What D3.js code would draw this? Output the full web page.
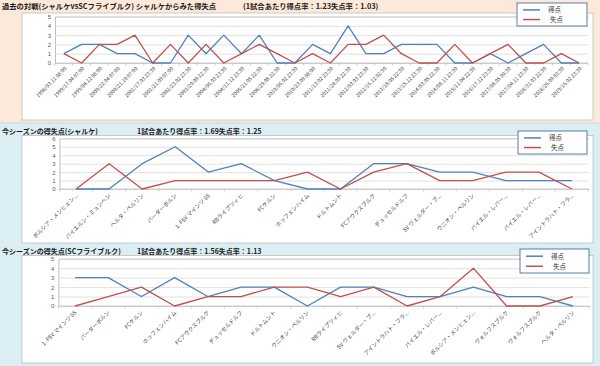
<!DOCTYPE html>
<html>
<head>
<meta charset="utf-8">
<script src="https://cdnjs.cloudflare.com/ajax/libs/d3/7.8.5/d3.min.js"></script>
<style>
  body { margin: 0; background: #fff; }
  svg { display: block; font-family: 'Noto Sans CJK JP', 'Noto Sans', sans-serif; }
</style>
</head>
<body>
<svg id="chart" width="600" height="366"></svg>
<script>
// past head-to-head matches, seen from Schalke
let pastDates = ['1998/03.11 08:00', '1999/17.04 07:00', '1999/04.12 08:00', '2000/22.04 07:00', '2000/21.10 07:00',
  '2001/17.03 23:30', '2001/21.09 07:00', '2002/23.02 23:30', '2003/20.09 22:30', '2004/06.03 23:30',
  '2004/11.12 23:30', '2005/21.05 22:30', '2008/29.08 22:30', '2010/06.02 23:30', '2010/23.09 08:00',
  '2011/13.02 23:30', '2011/24.09 22:30', '2012/03.03 23:30', '2012/16.12 02:30', '2013/18.05 22:30',
  '2013/15.12 23:30', '2014/03.05 22:30', '2014/08.11 23:30', '2015/11.04 22:30', '2016/17.12 23:30',
  '2017/08.05 09:30', '2017/04.11 23:30', '2018/31.03 22:30', '2018/26.09 03:30', '2019/16.02 23:30']
let pastFor = [1, 2, 2, 1, 1, 0, 0, 3, 1, 3, 1, 3, 0, 0, 2, 1, 4, 1, 1, 2, 2, 2, 0, 0, 1, 0, 1, 2, 0, 0]
let pastAgainst = [1, 0, 2, 2, 3, 0, 2, 0, 2, 0, 1, 2, 1, 0, 1, 0, 2, 2, 3, 1, 0, 0, 2, 0, 1, 2, 0, 0, 1, 0]

// this season, Schalke
let s04Teams = ['ボルシア・メンヒェン...', 'バイエルン・ミュンヘン', 'ヘルタ・ベルリン', 'パーダーボルン', '1. FSV マインツ 05',
  'RBライプツィヒ', 'FCケルン', 'ホッフェンハイム', 'ドルトムント', 'FCアウクスブルク', 'デュッセルドルフ',
  'SV ヴェルダー・ブ...', 'ウニオン・ベルリン', 'バイエル・レバー...', 'バイエル・レバー...', 'アイントラハト・フラ...']
let s04For = [0, 0, 3, 5, 2, 3, 1, 0, 0, 3, 3, 2, 2, 1, 1, 1]
let s04Against = [0, 3, 0, 1, 1, 1, 1, 2, 0, 2, 3, 1, 1, 2, 2, 0]

// this season, SC Freiburg
let scfTeams = ['1. FSV マインツ 05', 'パーダーボルン', 'FCケルン', 'ホッフェンハイム', 'FCアウクスブルク',
  'デュッセルドルフ', 'ドルトムント', 'ウニオン・ベルリン', 'RBライプツィヒ', 'SV ヴェルダー・ブ...',
  'アイントラハト・フラ...', 'バイエル・レバー...', 'ボルシア・メンヒェン...', 'ヴォルフスブルク', 'ヴォルフスブルク', 'ヘルタ・ベルリン']
let scfFor = [3, 3, 1, 3, 1, 2, 2, 0, 2, 2, 1, 1, 2, 1, 1, 0]
let scfAgainst = [0, 1, 2, 0, 1, 1, 2, 2, 1, 2, 0, 1, 4, 0, 0, 1]

let seriesNames = ['得点', '失点']
let seriesColors = ['#4f81bd', '#c0504d']

let svg = d3.select('#chart')

// panel backgrounds
svg.append('rect').attr('x', 0).attr('y', 0).attr('width', 600).attr('height', 123).attr('fill', '#fde9d9')
svg.append('rect').attr('x', 0).attr('y', 123).attr('width', 600).attr('height', 243).attr('fill', '#daeef3')
svg.append('line').attr('x1', 0).attr('x2', 600).attr('y1', 123).attr('y2', 123).attr('stroke', '#c9d7dc')

function drawPanel (p) {
  let g = svg.append('g')

  // chart box
  g.append('rect')
    .attr('x', p.box[0]).attr('y', p.box[1])
    .attr('width', p.box[2] - p.box[0]).attr('height', p.box[3] - p.box[1])
    .attr('fill', '#fff').attr('stroke', '#bfbfbf').attr('stroke-width', 0.8)

  // titles
  g.append('text').attr('x', 2).attr('y', p.titleY)
    .attr('font-size', p.titleSize).attr('font-weight', 'bold').attr('fill', '#1a1a1a')
    .text(p.title)
  g.append('text').attr('x', p.subX).attr('y', p.titleY)
    .attr('font-size', p.titleSize).attr('font-weight', 'bold').attr('fill', '#1a1a1a')
    .text(p.subtitle)

  let x = d3.scalePoint().domain(d3.range(p.cats.length)).range(p.xr).padding(0.5)
  let band = d3.scaleBand().domain(d3.range(p.cats.length)).range(p.xr)
  let y = d3.scaleLinear().domain([0, p.yMax]).range(p.yr)

  // gridlines + y labels
  let yAxis = d3.axisLeft(y).ticks(p.yMax).tickSize(-(p.xr[1] - p.xr[0])).tickPadding(4)
  let ax = g.append('g').attr('transform', 'translate(' + p.xr[0] + ',0)').call(yAxis)
  ax.select('.domain').attr('stroke', '#bfbfbf')
  ax.selectAll('.tick line').attr('stroke', '#d9d9d9').attr('stroke-width', 0.8)
  ax.selectAll('.tick text').attr('font-size', 6).attr('fill', '#595959')
    .attr('font-family', "'Liberation Sans', Arial, sans-serif")

  // x axis line and tick marks between categories
  g.append('line').attr('x1', p.xr[0]).attr('x2', p.xr[1])
    .attr('y1', y(0)).attr('y2', y(0)).attr('stroke', '#bfbfbf').attr('stroke-width', 0.8)
  let bounds = d3.range(p.cats.length).map(i => band(i)).concat([p.xr[1]])
  g.selectAll('.xtick').data(bounds).enter().append('line')
    .attr('x1', d => d).attr('x2', d => d)
    .attr('y1', y(0)).attr('y2', y(0) + 2.5)
    .attr('stroke', '#bfbfbf').attr('stroke-width', 0.8)

  // category labels
  g.selectAll('.xlab').data(p.cats).enter().append('text')
    .attr('transform', (d, i) => 'translate(' + (x(i) + p.labDx) + ',' + (y(0) + p.labDy) + ') rotate(-45)')
    .attr('text-anchor', 'end')
    .attr('font-size', p.labSize)
    .attr('fill', '#404040')
    .text(d => d)

  // lines
  let line = d3.line().x((d, i) => x(i)).y(d => y(d))
  p.series.forEach((s, k) => {
    g.append('path').datum(s)
      .attr('d', line)
      .attr('fill', 'none')
      .attr('stroke', seriesColors[k])
      .attr('stroke-width', 1.3)
      .attr('stroke-linejoin', 'round')
  })

  // legend
  let L = p.legend
  g.append('rect').attr('x', L[0]).attr('y', L[1]).attr('width', L[2]).attr('height', L[3])
    .attr('fill', '#fff').attr('stroke', '#4a6fa0').attr('stroke-width', 0.9)
  seriesNames.forEach((n, k) => {
    let ry = L[1] + L[3] * (0.3 + 0.42 * k)
    g.append('line').attr('x1', L[0] + 6).attr('x2', L[0] + 23).attr('y1', ry).attr('y2', ry)
      .attr('stroke', seriesColors[k]).attr('stroke-width', 1.5)
    g.append('text').attr('x', L[0] + 31 + k * 2).attr('y', ry + 2.3)
      .attr('font-size', 6.5).attr('fill', '#333').text(n)
  })
}

drawPanel({
  title: '過去の対戦(シャルケvsSCフライブルク)  シャルケからみた得失点',
  subtitle: '(1試合あたり得点率：1.23失点率：1.03)',
  titleY: 9, titleSize: 7.3, subX: 243,
  box: [22, 13, 593, 120],
  xr: [55, 588], yr: [63, 16.5], yMax: 5,
  cats: pastDates, labSize: 5.2, labDx: 3, labDy: 6,
  series: [pastFor, pastAgainst],
  legend: [517, 3, 70, 23]
})

drawPanel({
  title: '今シーズンの得失点(シャルケ)',
  subtitle: '1試合あたり得点率：1.69失点率：1.25',
  titleY: 133.5, titleSize: 7, subX: 137,
  box: [22, 135.5, 593, 243],
  xr: [59.5, 588.5], yr: [189, 138.3], yMax: 6,
  cats: s04Teams, labSize: 5.6, labDx: 2, labDy: 7,
  series: [s04For, s04Against],
  legend: [518, 131, 69, 23]
})

drawPanel({
  title: '今シーズンの得失点(SCフライブルク)',
  subtitle: '1試合あたり得点率：1.56失点率：1.13',
  titleY: 253.5, titleSize: 7, subX: 137,
  box: [22, 255.5, 593, 363],
  xr: [58.4, 589.6], yr: [306, 258.7], yMax: 5,
  cats: scfTeams, labSize: 5.6, labDx: 2, labDy: 7,
  series: [scfFor, scfAgainst],
  legend: [520, 249, 69, 24]
})
</script>
</body>
</html>
